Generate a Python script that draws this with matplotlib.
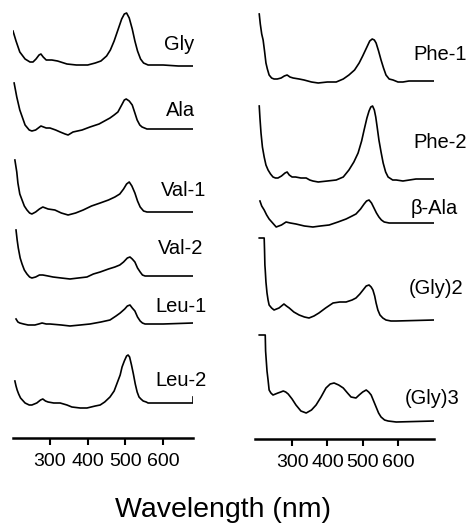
import matplotlib
matplotlib.use('Agg')
import matplotlib.pyplot as plt

plt.rcParams['font.family'] = ['Liberation Sans', 'DejaVu Sans']

# Absorbance spectra (arbitrary units, relative to each trace's baseline)
gly_wl = [202, 210, 220, 234, 247, 255, 263, 271, 276, 282, 290, 305, 320, 345, 370, 400, 420, 435, 450, 460,
          470, 480, 490, 497, 503, 510, 518, 525, 532, 540, 548, 560, 600, 640, 677]
gly_abs = [34, 24, 13, 6, 3, 3, 6, 10, 11, 8, 5, 5, 4, 1, 0, 0, 2, 4, 9, 15,
           24, 35, 46, 51, 52, 47, 36, 24, 14, 6, 2, 0, 0, -1, -1]

ala_wl = [205, 212, 220, 234, 245, 252, 262, 276, 290, 300, 315, 327, 340, 348, 361, 385, 406, 430, 459, 470,
          480, 490, 497, 502, 510, 518, 525, 531, 538, 544, 557, 600, 677]
ala_abs = [46, 32, 19, 4, -1, -2, -1, 3, 1, 1, -1, -3, -5, -6, -3, -1, 2, 5, 11, 14,
           17, 24, 29, 30, 28, 24, 16, 9, 4, 2, 0, 0, 0]

val1_wl = [207, 212, 215, 220, 226, 232, 239, 246, 252, 262, 272, 281, 295, 313, 330, 348, 368, 388, 410, 433,
           455, 472, 485, 495, 503, 510, 517, 525, 532, 539, 548, 557, 600, 677]
val1_abs = [52, 40, 29, 18, 12, 6, 2, -1, -2, 0, 3, 5, 3, 2, -1, -3, -1, 2, 6, 9,
            12, 15, 18, 23, 28, 30, 26, 19, 11, 5, 1, 0, 0, 0]

val2_wl = [210, 213, 216, 221, 226, 232, 239, 246, 252, 262, 272, 281, 295, 308, 330, 353, 375, 398, 415, 433,
           455, 472, 485, 495, 505, 512, 518, 525, 532, 539, 545, 552, 600, 677]
val2_abs = [46, 36, 28, 18, 12, 6, 2, -1, -2, -1, 1, 1, 0, -1, -2, -3, -2, -1, 2, 4,
            7, 9, 11, 14, 18, 19, 17, 14, 8, 4, 1, 0, 0, 0]

leu1_wl = [210, 215, 220, 230, 242, 260, 270, 279, 290, 300, 330, 353, 380, 406, 435, 459, 475, 486, 498, 505,
           512, 518, 525, 532, 539, 545, 552, 600, 679]
leu1_abs = [5, 2, 1, 0, -1, -1, 0, 1, 0, 0, -1, -2, -1, 0, 2, 4, 8, 11, 15, 18,
            19, 16, 13, 7, 3, 1, 0, 0, 1]

leu2_wl = [207, 210, 213, 217, 222, 234, 245, 252, 265, 275, 281, 288, 295, 310, 327, 345, 358, 380, 398, 420,
           433, 445, 459, 470, 478, 486, 491, 497, 503, 507, 511, 516, 521, 526, 531, 536, 541, 547, 555, 560,
           600, 679, 679]
leu2_abs = [22, 17, 13, 9, 5, 0, -2, -2, 0, 3, 4, 2, 1, 0, 0, -2, -4, -5, -5, -3,
            -2, 1, 6, 12, 20, 28, 36, 42, 47, 48, 46, 38, 29, 19, 11, 6, 4, 2, 1, 0,
            0, 0, 6]

phe1_wl = [207, 210, 214, 218, 222, 226, 230, 235, 242, 249, 258, 269, 278, 286, 294, 303, 320, 334, 355, 374,
           400, 425, 445, 461, 477, 490, 500, 512, 520, 527, 533, 538, 545, 552, 559, 566, 575, 586, 600, 614,
           631, 705]
phe1_abs = [67, 57, 47, 41, 30, 18, 12, 6, 3, 2, 2, 3, 5, 6, 4, 3, 2, 1, -1, -2,
            -1, -1, 2, 6, 11, 18, 25, 34, 40, 42, 41, 38, 30, 21, 13, 6, 2, 1, -1, -1,
            0, 0]

phe2_wl = [207, 209, 212, 216, 221, 226, 232, 239, 246, 253, 260, 270, 280, 286, 292, 300, 310, 325, 340, 350,
           359, 374, 400, 425, 445, 461, 475, 487, 497, 504, 512, 518, 523, 528, 533, 537, 541, 546, 552, 558,
           565, 572, 585, 595, 614, 651, 705]
phe2_abs = [74, 62, 47, 33, 23, 15, 10, 6, 3, 2, 2, 4, 7, 8, 5, 3, 3, 2, 2, 0,
            -1, -2, -1, 0, 3, 10, 18, 27, 39, 50, 62, 69, 73, 74, 70, 63, 53, 40, 28, 17,
            8, 3, 0, 0, -1, 1, 1]

bala_wl = [209, 214, 221, 228, 235, 245, 255, 270, 283, 295, 311, 335, 359, 380, 405, 430, 453, 470, 481, 494,
           504, 511, 518, 525, 532, 539, 546, 553, 561, 575, 586, 705]
bala_abs = [22, 17, 13, 8, 4, 0, -4, -2, 1, 0, -1, -3, -4, -3, -2, 1, 4, 7, 9, 14,
            19, 22, 23, 20, 15, 10, 6, 3, 1, 0, 0, 0]

gly2_wl = [207, 221, 222, 223, 224, 226, 229, 232, 235, 242, 249, 256, 263, 270, 277, 284, 292, 305, 320, 335,
           348, 362, 376, 395, 416, 435, 453, 470, 481, 492, 501, 510, 518, 524, 529, 534, 538, 543, 549, 557,
           566, 580, 595, 702]
gly2_abs = [82, 82, 70, 55, 50, 38, 27, 20, 15, 12, 10, 11, 12, 14, 16, 14, 12, 8, 5, 3,
            2, 4, 7, 12, 17, 18, 18, 20, 22, 26, 30, 34, 35, 33, 30, 24, 17, 10, 5, 2,
            0, -1, -1, 0]

gly3_wl = [207, 224, 225, 227, 229, 232, 235, 240, 246, 253, 260, 268, 275, 282, 289, 300, 311, 325, 340, 355,
           368, 382, 396, 408, 419, 432, 445, 457, 467, 481, 490, 500, 510, 517, 524, 531, 538, 545, 552, 562,
           572, 595, 702]
gly3_abs = [86, 86, 70, 60, 50, 41, 31, 28, 26, 27, 28, 29, 30, 29, 27, 22, 16, 10, 8, 11,
            16, 24, 33, 37, 38, 36, 33, 28, 24, 23, 26, 29, 31, 29, 26, 20, 14, 8, 4, 1,
            0, -1, 0]

left_names = ['Gly', 'Ala', 'Val-1', 'Val-2', 'Leu-1', 'Leu-2']
left_wl = [gly_wl, ala_wl, val1_wl, val2_wl, leu1_wl, leu2_wl]
left_abs = [gly_abs, ala_abs, val1_abs, val2_abs, leu1_abs, leu2_abs]

right_names = ['Phe-1', 'Phe-2', '\u03b2-Ala', '(Gly)2', '(Gly)3']
right_wl = [phe1_wl, phe2_wl, bala_wl, gly2_wl, gly3_wl]
right_abs = [phe1_abs, phe2_abs, bala_abs, gly2_abs, gly3_abs]

ticks = [300, 400, 500, 600]

# vertical stacking offsets and label positions (layout)
left_offsets = [373, 309, 226, 162, 114, 35]
left_label_xy = [(602, 393), (608, 328), (594, 248), (586, 190), (579, 131), (579, 58)]
right_offsets = [358, 259, 216, 119, 18]
right_label_xy = [(643, 384), (643, 296), (637, 231), (631, 151), (620, 41)]

fig = plt.figure(figsize=(4.72, 5.25), dpi=100)
ax_l = fig.add_axes([13 / 472, 87 / 525, 180 / 472, 438 / 525])
ax_r = fig.add_axes([255 / 472, 86 / 525, 179 / 472, 439 / 525])


def draw_panel(ax, names, wls, absv, offsets, label_xy, xlim, ytop):
    for name, wl, a, off, (lx, ly) in zip(names, wls, absv, offsets, label_xy):
        ax.plot(wl, [v + off for v in a], color='black', lw=1.2, solid_joinstyle='round')
        ax.text(lx, ly, name, fontsize=14.5, ha='left', va='center', clip_on=False)
    ax.set_xlim(*xlim)
    ax.set_ylim(0, ytop)
    for s in ['top', 'left', 'right']:
        ax.spines[s].set_visible(False)
    ax.spines['bottom'].set_linewidth(1.8)
    ax.set_yticks([])
    ax.set_xticks(ticks)
    ax.tick_params(axis='x', direction='out', length=5, width=1.5, labelsize=14, pad=6)
    ax.patch.set_visible(False)


draw_panel(ax_l, left_names, left_wl, left_abs, left_offsets, left_label_xy, (202, 679), 438)
draw_panel(ax_r, right_names, right_wl, right_abs, right_offsets, right_label_xy, (195, 702), 439)

fig.text(223 / 472, 8 / 525, 'Wavelength (nm)', fontsize=20.5, ha='center', va='baseline')

fig.savefig('out.png', dpi=100)
